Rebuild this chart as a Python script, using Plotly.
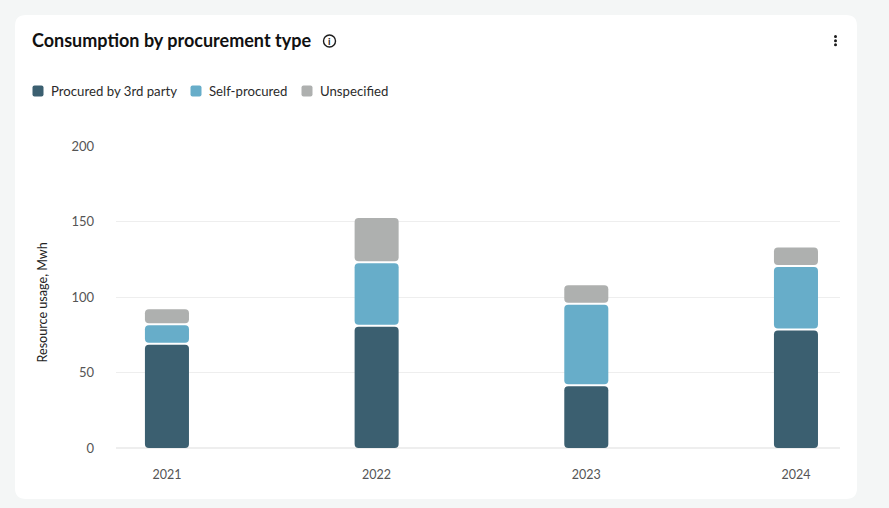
import plotly.graph_objects as go

W, H = 889, 508
years = ["2021", "2022", "2023", "2024"]
third_party = [69, 81, 41.5, 78.5]
self_procured = [13, 42, 54, 42]
unspecified = [10.5, 30, 13, 13]
series_names = ["Procured by 3rd party", "Self-procured", "Unspecified"]
series_colors = ["#3b5f70", "#67adc9", "#aeb0af"]
y_ticks = [0, 50, 100, 150, 200]

L, R, T, B = 116, 840, 146, 448
FONT = "Lato"
GAP = 1.3  # white gap between stacked segments, in axis units


def px(x):
    return (x - L) / (R - L)


def py(y):
    return (B - y) / (B - T)


def rrect(x0, y0, x1, y1, r):
    a, b, c, d = px(x0), py(y0), px(x1), py(y1)
    rx, ry = r / (R - L), r / (B - T)
    return (f"M{a+rx},{b} L{c-rx},{b} Q{c},{b} {c},{b-ry} L{c},{d+ry} Q{c},{d} {c-rx},{d} "
            f"L{a+rx},{d} Q{a},{d} {a},{d+ry} L{a},{b-ry} Q{a},{b} {a+rx},{b} Z")


fig = go.Figure()

# bars with an explicit base get all four corners rounded
bottoms = [0, 0, 0, 0]
for name, values, color in zip(series_names, [third_party, self_procured, unspecified], series_colors):
    los = [b + GAP / 2 if b > 0 else b for b in bottoms]
    his = [b + v - GAP / 2 for b, v in zip(bottoms, values)]
    fig.add_trace(go.Bar(
        x=years,
        y=[hi - lo for lo, hi in zip(los, his)],
        base=los,
        width=0.21,
        name=name,
        showlegend=False,
        marker=dict(color=color, cornerradius=4, line=dict(width=0)),
    ))
    bottoms = [b + v for b, v in zip(bottoms, values)]

shapes = [dict(type="path", xref="paper", yref="paper", path=rrect(15, 15, 857, 499, 11),
               fillcolor="white", line=dict(width=0), layer="below")]
annotations = []

legend_pos = [(38, 51), (196, 209), (307, 320)]
for (sx, tx), name, color in zip(legend_pos, series_names, series_colors):
    shapes.append(dict(type="path", xref="paper", yref="paper",
                       path=rrect(sx - 5.5, 85.5, sx + 5.5, 96.5, 2),
                       fillcolor=color, line=dict(width=0)))
    annotations.append(dict(xref="paper", yref="paper", x=px(tx), y=py(91), xanchor="left", yanchor="middle",
                            text=name, showarrow=False, xshift=-2,
                            font=dict(family=FONT, size=13.2, color="#2b2b2b")))

# y axis title
annotations.append(dict(xref="paper", yref="paper", x=px(42), y=py(302.5), xanchor="center", yanchor="middle",
                        text="Resource usage, Mwh", textangle=-90, showarrow=False,
                        font=dict(family=FONT, size=12.6, color="#222222")))

# info icon
shapes.append(dict(type="circle", xref="paper", yref="paper", x0=px(323.5), x1=px(335.5), y0=py(47), y1=py(35),
                   line=dict(color="#1c1c1c", width=1.4), fillcolor="white"))
annotations.append(dict(xref="paper", yref="paper", x=px(329.5), y=py(41), text="<b>i</b>", showarrow=False,
                        xanchor="center", yanchor="middle", font=dict(family=FONT, size=10, color="#1c1c1c")))
# menu dots
for dy in (36.5, 40.7, 44.7):
    shapes.append(dict(type="circle", xref="paper", yref="paper", x0=px(834), x1=px(837),
                       y0=py(dy + 1.5), y1=py(dy - 1.5), fillcolor="#1c1c1c", line=dict(width=0)))

fig.update_layout(
    width=W, height=H, autosize=False,
    margin=dict(l=L, r=W - R, t=T, b=H - B, pad=0),
    paper_bgcolor="#f4f6f6", plot_bgcolor="rgba(0,0,0,0)",
    barmode="overlay", showlegend=False,
    title=dict(text="<b>Consumption by procurement type</b>", xref="container", yref="container",
               x=32 / W, y=1 - 41 / H, xanchor="left", yanchor="middle",
               font=dict(family=FONT, size=18, color="#111111")),
    font=dict(family=FONT),
    shapes=shapes, annotations=annotations,
    xaxis=dict(type="category", categoryorder="array", categoryarray=years,
               range=[-0.243, 3.21], showgrid=False, zeroline=False, showline=False, ticks="",
               ticklabelstandoff=17, tickfont=dict(family=FONT, size=12.5, color="#555555")),
    yaxis=dict(range=[0, 200], tickvals=y_ticks, showgrid=True, gridcolor="#eeeeee", gridwidth=1,
               zeroline=True, zerolinecolor="#eeeeee", showline=False, ticks="", ticklabelstandoff=21,
               tickfont=dict(family=FONT, size=13, color="#555555")),
)
fig.write_html("out.html", config={"displayModeBar": False},
               post_script="document.body.style.margin='0';document.body.style.overflow='hidden';")
